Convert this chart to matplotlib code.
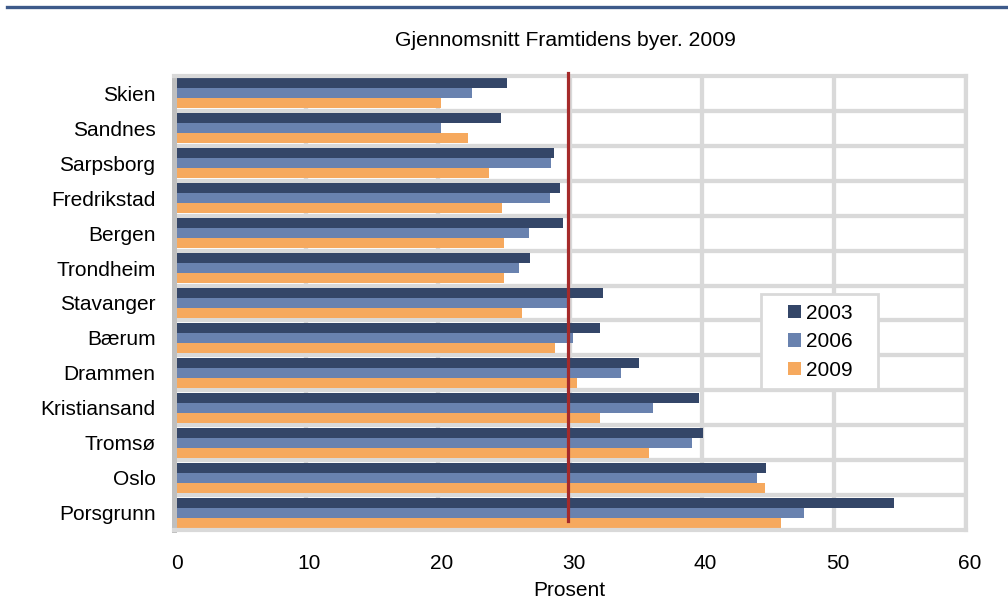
import matplotlib
matplotlib.use("Agg")
import matplotlib.pyplot as plt
import matplotlib.transforms as mtransforms
from matplotlib.lines import Line2D
from matplotlib.patches import Rectangle
import numpy as np

plt.rcParams['font.family'] = ['Liberation Sans', 'DejaVu Sans']

# data
cities = ["Skien", "Sandnes", "Sarpsborg", "Fredrikstad", "Bergen", "Trondheim",
          "Stavanger", "Bærum", "Drammen", "Kristiansand", "Tromsø", "Oslo", "Porsgrunn"]
v2003 = [25.3, 24.8, 28.8, 29.3, 29.5, 27.0, 32.5, 32.3, 35.3, 39.8, 40.1, 44.9, 54.6]
v2006 = [22.6, 20.3, 28.6, 28.5, 26.9, 26.2, 29.8, 30.3, 33.9, 36.3, 39.3, 44.2, 47.8]
v2009 = [20.3, 22.3, 23.9, 24.9, 25.0, 25.0, 26.4, 28.9, 30.6, 32.3, 36.0, 44.8, 46.0]
years = ["2003", "2006", "2009"]
average = 29.9
avg_label = "Gjennomsnitt Framtidens byer. 2009"
x_ticks = [0, 10, 20, 30, 40, 50, 60]

colors = ["#344668", "#6982af", "#f6a95e"]
grid_c = "#d9d9d9"

fig = plt.figure(figsize=(10.08, 6.16), dpi=100)
ax = fig.add_axes([173.5 / 1008, 1 - 530 / 616, 792 / 1008, 454 / 616])

y = np.arange(len(cities))
h = 0.287
for k, (vals, lab) in enumerate(zip([v2003, v2006, v2009], years)):
    ax.barh(y + (k - 1) * h, vals, height=h, color=colors[k], label=lab, zorder=2)

ax.axvline(average, ymin=0.02, ymax=1.007, color="#a52a2a", lw=2.3, zorder=3, clip_on=False)

ax.set_xlim(0, 60)
ax.set_ylim(len(cities) - 0.5, -0.5)
ax.set_xticks(x_ticks)
ax.set_yticks(y)
ax.set_yticklabels(cities)
ax.set_yticks(y[:-1] + 0.5, minor=True)
ax.tick_params(axis='both', which='both', length=0, labelsize=15)
ax.tick_params(axis='x', pad=17)
ax.tick_params(axis='y', pad=13)
ax.set_axisbelow(True)
ax.grid(axis='x', which='major', color=grid_c, lw=3.1)
ax.grid(axis='y', which='minor', color=grid_c, lw=3.1)
ax.grid(axis='y', which='major', visible=False)

for s in ['top', 'right', 'bottom']:
    ax.spines[s].set_color(grid_c)
    ax.spines[s].set_linewidth(3)
ax.spines['left'].set_color("#bfbfbf")
ax.spines['left'].set_linewidth(3.6)

shift = mtransforms.ScaledTranslation(4 / 100, 0, fig.dpi_scale_trans)
for lbl in ax.get_xticklabels():
    lbl.set_transform(lbl.get_transform() + shift)

ax.set_xlabel("Prosent", fontsize=15, labelpad=6)

fig.text(565 / 1008, 1 - 40 / 616, avg_label, ha='center', va='center', fontsize=15.2)

# legend box drawn by hand so the padding matches
ax.add_patch(Rectangle((761 / 1008, 1 - 389 / 616), 117 / 1008, 95 / 616,
                       transform=fig.transFigure, facecolor='white', edgecolor=grid_c,
                       lw=2, zorder=4, clip_on=False))
leg = ax.legend(loc='upper left', bbox_to_anchor=(788 / 1008, 1 - 304 / 616),
                bbox_transform=fig.transFigure, fontsize=15, frameon=False,
                handlelength=0.63, handleheight=0.63,
                handletextpad=0.24, labelspacing=0.45, borderpad=0, borderaxespad=0)
leg.set_zorder(5)

# blue rule across the top of the page
fig.add_artist(Line2D([7 / 1008, 1], [1 - 7.3 / 616] * 2, transform=fig.transFigure,
                      color="#3d5a8a", lw=2.4))

fig.savefig("out.png", dpi=100)
